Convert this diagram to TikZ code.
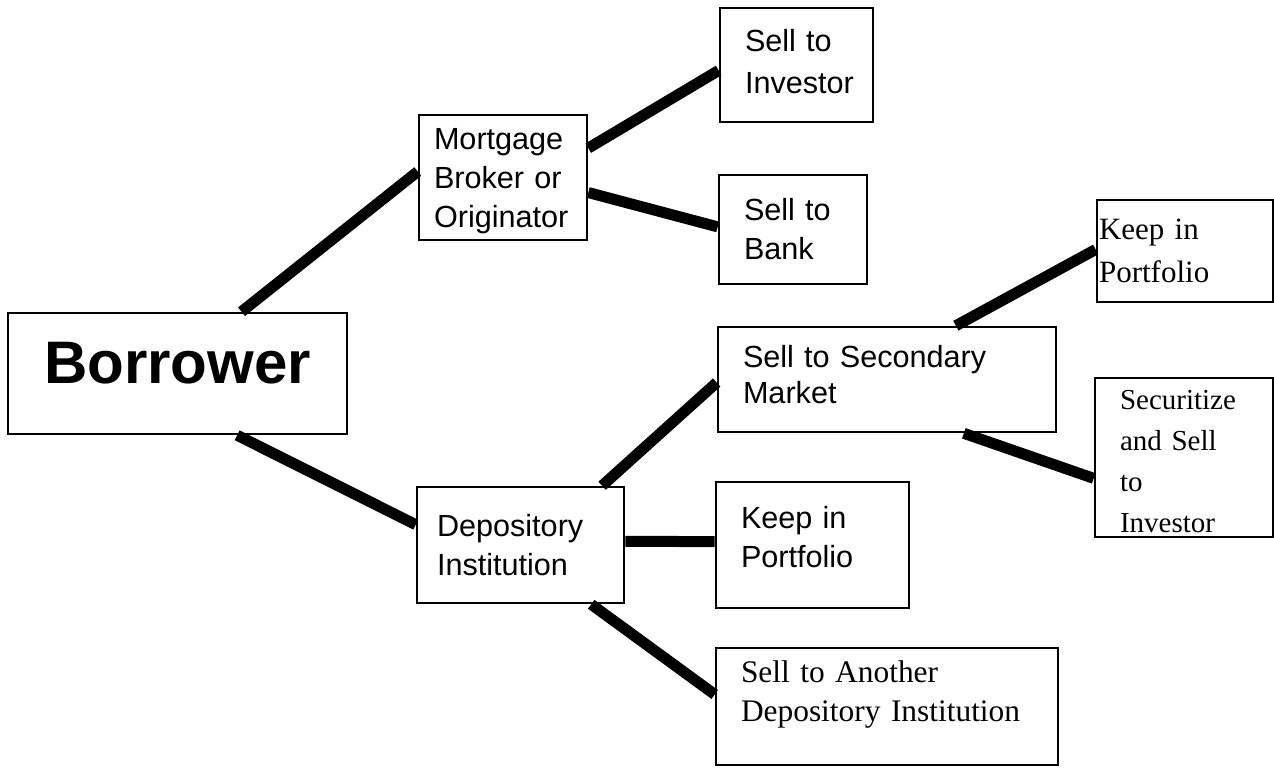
\documentclass[tikz,border=0pt]{standalone}
\usepackage{fontspec}
\setmainfont{Liberation Serif}
\setsansfont{Liberation Sans}

\begin{document}
\begin{tikzpicture}[x=0.5pt,y=-0.5pt,
  box/.style={draw,line width=1.3pt,inner ysep=0pt,inner xsep=12.5pt,align=left},
  sans/.style={box,font=\fontsize{15.3}{19.5}\selectfont\sffamily},
  serif/.style={box,font=\fontsize{15.5}{19.5}\selectfont\rmfamily},
  link/.style={line width=5.5pt}]
  \useasboundingbox (0,0) rectangle (1274,767);
  % first level
  \node[box,minimum width=169.5pt,minimum height=60.5pt,text depth=11pt,align=center,
    font=\fontsize{30}{36}\selectfont\sffamily\bfseries] (bor) at (177.5,373.5) {Borrower};
  \node[sans,text width=69pt,inner xsep=7.5pt,minimum height=62.5pt,text depth=38.2pt] (mtg) at (503,177.5) {Mortgage\\Broker or\\Originator};
  \node[sans,text width=83.5pt,inner xsep=10pt,minimum height=58pt] (dep) at (520.5,545) {Depository\\Institution};
  % second level
  \node[sans,text width=51.5pt,minimum height=57pt,text depth=25pt,font=\fontsize{15.3}{21}\selectfont\sffamily] (inv) at (796.5,65) {Sell to\\Investor};
  \node[sans,text width=49pt,minimum height=54.5pt] (bank) at (793,229.5) {Sell to\\Bank};
  \node[sans,text width=144pt,minimum height=52.5pt,text depth=23pt,font=\fontsize{15.3}{18}\selectfont\sffamily] (sec) at (887,379.5) {Sell to Secondary\\Market};
  \node[sans,text width=71.5pt,minimum height=63pt,text depth=27.5pt] (keepb) at (812.5,545) {Keep in\\Portfolio};
  \node[serif,text width=146pt,minimum height=58.5pt,text depth=34.5pt,font=\fontsize{15.7}{19.5}\selectfont\rmfamily] (other) at (887,706.5) {Sell to Another\\Depository Institution};
  % third level
  \node[serif,text width=86pt,inner xsep=1pt,minimum height=51pt,font=\fontsize{15.5}{21.5}\selectfont\rmfamily] (keepa) at (1185,251) {Keep in\\Portfolio};
  \node[serif,text width=64pt,minimum height=79.5pt,text depth=57.5pt,font=\fontsize{14.5}{20.5}\selectfont\rmfamily] (secz) at (1184,457.5) {Securitize\\and Sell\\to\\Investor};
  % links
  \draw[link] (bor.44) -- (mtg.176);
  \draw[link] (bor.-46) -- (dep.169);
  \draw[link] (mtg.19) -- (inv.-176);
  \draw[link] (mtg.-10) -- (bank.178);
  \draw[link] (dep.36) -- (sec.181);
  \draw[link] (dep.2) -- (keepb.178);
  \draw[link] (dep.-40) -- (other.176);
  \draw[link] (sec.38) -- (keepa.179);
  \draw[link] (sec.-35) -- (secz.-167);
\end{tikzpicture}
\end{document}
